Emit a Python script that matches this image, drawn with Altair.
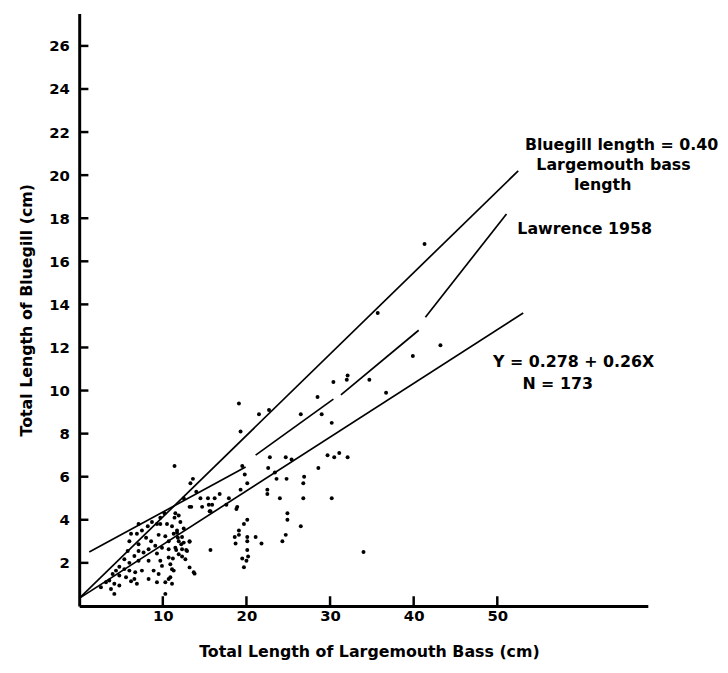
import altair as alt
import pandas as pd

# ---------------- data ----------------
pts_x = [
    7.1, 6.2, 6.9, 6.0, 7.5, 8.0, 7.1, 8.6, 9.5, 10.3, 10.7, 11.3, 11.8, 12.2, 12.5, 13.2,
    10.7, 9.9, 9.1, 8.3, 7.7, 7.1, 6.6, 5.8, 5.4, 6.0, 7.1, 7.5, 6.7, 6.0, 5.4, 4.8, 4.8,
    5.6, 6.6, 6.9, 6.2, 8.3, 9.3, 9.7, 8.9, 9.5, 9.9, 10.7, 10.9, 11.3, 11.9, 12.3, 12.7,
    12.9, 11.5, 13.2, 10.7, 11.1, 10.3, 9.3, 8.3, 4.0, 4.4, 3.6, 4.2, 4.8, 3.2, 2.6, 3.8,
    4.2, 10.3, 10.9, 13.7,
    11.4, 13.6, 13.3, 14.0, 12.5, 14.5, 13.4, 14.7, 15.6, 15.9, 11.5, 11.9, 10.2, 9.7, 9.3,
    8.2, 8.7, 9.7, 10.5, 11.1, 11.7, 11.4, 12.1, 12.5, 11.7, 12.3, 13.2, 11.9, 12.8, 12.3,
    11.6, 11.2, 11.1,
    15.4, 16.2, 16.8, 17.6, 17.9, 15.5, 13.2, 15.7, 15.7, 13.8,
    19.1, 19.3, 21.5, 22.7, 19.5, 19.8, 20.1, 19.3, 18.9, 18.8, 20.1, 19.7, 19.1, 19.1,
    18.6, 18.7, 20.1, 20.1, 21.1, 21.8, 20.1, 20.2, 19.5, 20.0, 19.7,
    22.8, 24.7, 25.4, 22.6, 23.4, 23.6, 22.5, 22.5, 24.8, 26.9, 26.8, 24.0, 26.8, 24.9,
    24.9, 26.5, 24.7, 24.3, 26.5,
    30.4, 28.5, 29.0, 30.2, 28.6, 29.7, 30.5, 31.1, 30.2, 32.1, 32.0, 32.1,
    41.3, 35.7, 43.2, 39.9, 34.7, 36.7, 34.0,
]
pts_y = [
    3.8, 3.35, 3.35, 3.0, 3.5, 3.17, 2.86, 3.0, 3.3, 3.24, 3.0, 3.35, 3.17, 2.86, 2.94, 2.98,
    2.63, 2.7, 2.79, 2.63, 2.48, 2.55, 2.32, 2.55, 2.17, 2.0, 2.1, 1.64, 1.56, 1.64, 1.71, 1.82, 1.41,
    1.33, 1.25, 1.03, 1.15, 2.1, 2.43, 2.1, 1.64, 1.48, 1.86, 2.25, 1.94, 1.64, 2.4, 2.63, 2.17,
    2.55, 2.7, 1.79, 1.25, 1.03, 1.1, 1.1, 1.25, 1.48, 1.64, 1.18, 1.03, 0.95, 1.1, 0.87, 0.79,
    0.56, 0.56, 1.33, 1.56,
    6.5, 5.9, 5.7, 5.3, 5.0, 5.0, 4.6, 4.6, 4.4, 4.7, 4.3, 4.2, 4.3, 4.1, 3.8,
    3.7, 3.9, 3.8, 3.8, 3.7, 3.5, 4.1, 3.9, 3.6, 3.4, 3.2, 3.0, 3.0, 2.6, 2.3,
    2.6, 2.2, 1.7,
    5.0, 5.0, 5.2, 4.7, 5.0, 4.7, 4.6, 4.4, 2.6, 1.5,
    9.4, 8.1, 8.9, 9.1, 6.5, 6.1, 5.7, 5.4, 4.6, 4.5, 4.0, 3.8, 3.5, 3.3,
    3.2, 2.9, 3.2, 3.0, 3.2, 2.9, 2.6, 2.3, 2.2, 2.1, 1.8,
    6.9, 6.9, 6.8, 6.4, 6.2, 5.9, 5.4, 5.2, 5.9, 6.0, 5.7, 5.0, 5.0, 4.3,
    4.0, 3.7, 3.3, 3.0, 8.9,
    10.4, 9.7, 8.9, 8.5, 6.4, 7.0, 6.9, 7.1, 5.0, 10.7, 10.5, 6.9,
    16.8, 13.6, 12.1, 11.6, 10.5, 9.9, 2.5,
]

# fitted / reference lines, one row per vertex, grouped by segment
line_seg = ["b040", "b040", "reg", "reg",
            "law1", "law1", "law2", "law2", "law3", "law3", "law4", "law4"]
line_x = [0.0, 52.5, 0.0, 53.1,
          1.2, 19.9, 21.1, 30.4, 31.3, 40.6, 41.4, 51.1]
line_y = [0.35, 20.2, 0.35, 13.6,
          2.5, 6.45, 7.0, 9.6, 9.8, 12.8, 13.4, 18.2]

# annotations
ann_text = ["Bluegill length = 0.40", "Largemouth bass", "length",
            "Lawrence 1958", "Y = 0.278 + 0.26X", "N = 173"]
ann_x = [53.3, 63.9, 62.6, 52.4, 49.5, 53.0]
ann_y = [21.4, 20.45, 19.55, 17.5, 11.3, 10.3]
ann_align = ["left", "center", "center", "left", "left", "left"]

x_ticks = [10, 20, 30, 40, 50]
y_ticks = [2, 4, 6, 8, 10, 12, 14, 16, 18, 20, 22, 24, 26]

X_MAX = 68
Y_MAX = 27.5
FONT = "DejaVu Sans"

# ---------------- shared encodings ----------------
def X(field="x"):
    return alt.X(
        f"{field}:Q",
        scale=alt.Scale(domain=[0, X_MAX], nice=False, zero=False),
        axis=alt.Axis(
            values=x_ticks, ticks=False, grid=False,
            domainColor="black", domainWidth=3,
            labelFont=FONT, labelFontSize=15, labelFontWeight="bold",
            labelColor="black", labelPadding=3,
            title="Total Length of Largemouth Bass (cm)",
            titleFont=FONT, titleFontSize=16, titleFontWeight="bold",
            titleColor="black", titlePadding=20, titleX=293,
        ),
    )


def Y(field="y"):
    return alt.Y(
        f"{field}:Q",
        scale=alt.Scale(domain=[0, Y_MAX], nice=False, zero=False),
        axis=alt.Axis(
            values=y_ticks, ticks=False, grid=False,
            domainColor="black", domainWidth=3,
            labelFont=FONT, labelFontSize=15, labelFontWeight="bold",
            labelColor="black", labelPadding=10,
            title="Total Length of Bluegill (cm)",
            titleFont=FONT, titleFontSize=16, titleFontWeight="bold",
            titleColor="black", titlePadding=14,
        ),
    )


pts = pd.DataFrame({"x": pts_x, "y": pts_y})
lines = pd.DataFrame({"seg": line_seg, "x": line_x, "y": line_y})
ann = pd.DataFrame({"label": ann_text, "x": ann_x, "y": ann_y, "align": ann_align})
xt = pd.DataFrame({"x": x_ticks, "y": [0] * len(x_ticks), "y_end": [0.45] * len(x_ticks)})
yt = pd.DataFrame({"y": y_ticks, "x": [0] * len(y_ticks), "x_end": [1.1] * len(y_ticks)})

scatter = alt.Chart(pts).mark_circle(size=16, color="black", opacity=1).encode(x=X(), y=Y())

line_layer = alt.Chart(lines).mark_line(color="black", strokeWidth=1.7).encode(
    x=X(), y=Y(), detail="seg:N"
)

xtick_layer = alt.Chart(xt).mark_rule(color="black", strokeWidth=2.5).encode(
    x=X(), y=Y(), y2="y_end:Q"
)
ytick_layer = alt.Chart(yt).mark_rule(color="black", strokeWidth=2.5).encode(
    x=X(), x2="x_end:Q", y=Y()
)

ann_left = alt.Chart(ann[ann["align"] == "left"]).mark_text(
    align="left", baseline="middle", font=FONT, fontSize=16, fontWeight="bold", color="black"
).encode(x=X(), y=Y(), text="label:N")
ann_center = alt.Chart(ann[ann["align"] == "center"]).mark_text(
    align="center", baseline="middle", font=FONT, fontSize=16, fontWeight="bold", color="black"
).encode(x=X(), y=Y(), text="label:N")

chart = alt.layer(
    line_layer, xtick_layer, ytick_layer, scatter, ann_left, ann_center
).properties(
    width=575, height=599,
    autosize=alt.AutoSizeParams(type="none"),
    padding={"left": 72, "top": 2, "right": 73, "bottom": 51},
    background="white",
).configure_view(stroke=None)

chart.save("out.html", embed_options={"renderer": "svg", "actions": False})
